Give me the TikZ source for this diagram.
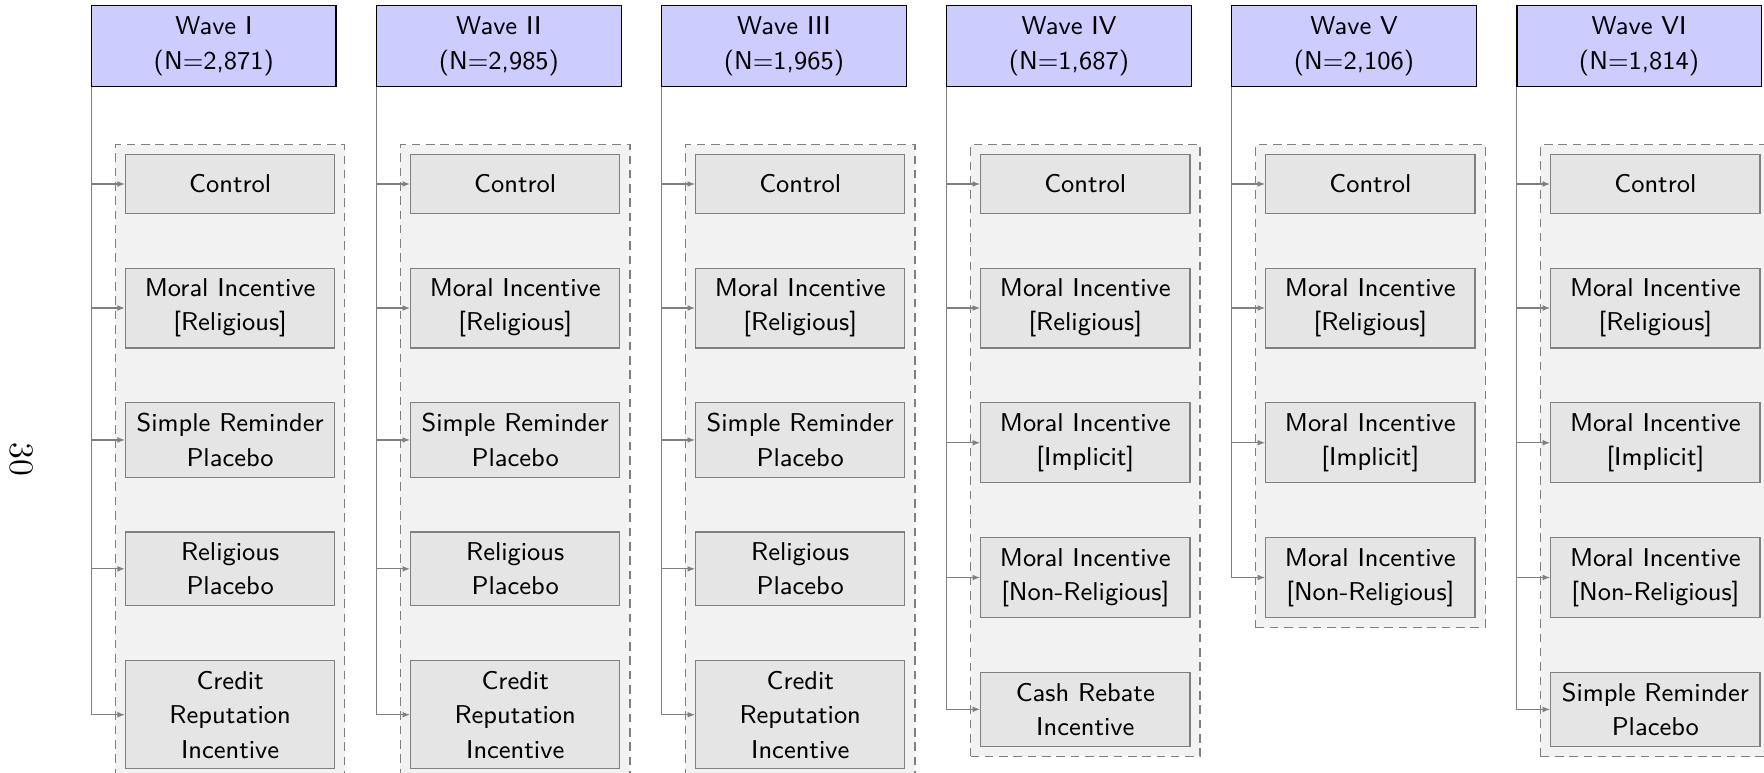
\documentclass[tikz,border=0pt]{standalone}
\usetikzlibrary{positioning, fit, backgrounds, arrows.meta}

\begin{document}
\begin{tikzpicture}[node distance=0.66cm]
	\tikzset{vague/.style={draw=black, fill=blue!20, minimum width=3cm, inner sep=4pt, align=center, font=\sffamily\fontsize{9}{12}\selectfont},
	traitement/.style={draw=gray, fill=gray!20, minimum width=2.57cm, minimum height=0.717cm, inner xsep=3.5pt, inner ysep=3.7pt, align=center, font=\sffamily\fontsize{9}{12}\selectfont},
	cadre/.style={draw=gray, dash pattern=on 3pt off 2pt, fill=gray!10},
	fleche/.style={draw=gray, -{Latex[length=2.6pt, width=2pt]}}};

	\path[use as bounding box] (0, 0) rectangle (21.66, -9.49);

	\node[rotate=-90, font=\large] (page) at (0.26, -5.64) {30};

	\foreach \i/\nom/\n in {1/I/{2,871}, 2/II/{2,985}, 3/III/{1,965}, 4/IV/{1,687}, 5/V/{2,106}, 6/VI/{1,814}}{
		\node[vague] (v\i) at (3.5*\i - 0.874, -0.566) {Wave \nom\\(N=\n)};
		\node[traitement, below=0.82cm of v\i, xshift=0.2cm] (t\i-1) {Control};
	}

	\foreach \i in {1, 2, 3}{
		\foreach \j/\txt [remember=\j as \k (initially 1)] in {2/Moral Incentive\\{[Religious]}, 3/Simple Reminder\\Placebo, 4/Religious\\Placebo, 5/Credit\\Reputation\\Incentive}{
			\node[traitement, below=of t\i-\k] (t\i-\j) {\txt};
		}
	}

	\foreach \i in {4, 5, 6}{
		\foreach \j/\txt [remember=\j as \k (initially 1)] in {2/Moral Incentive\\{[Religious]}, 3/Moral Incentive\\{[Implicit]}, 4/Moral Incentive\\{[Non-Religious]}}{
			\node[traitement, below=of t\i-\k] (t\i-\j) {\txt};
		}
	}

	\node[traitement, below=of t4-4] (t4-5) {Cash Rebate\\Incentive};
	\node[traitement, below=of t6-4] (t6-5) {Simple Reminder\\Placebo};

	\foreach \i/\dernier in {1/5, 2/5, 3/5, 4/5, 5/4, 6/5}{
		\begin{scope}[on background layer]
			\node[cadre, fit=(t\i-1)(t\i-\dernier)] (c\i) {};
		\end{scope}
		\foreach \j in {1, ..., \dernier}{
			\draw[fleche] (v\i.south west) |- (t\i-\j.west);
		}
	}

\end{tikzpicture}
\end{document}
